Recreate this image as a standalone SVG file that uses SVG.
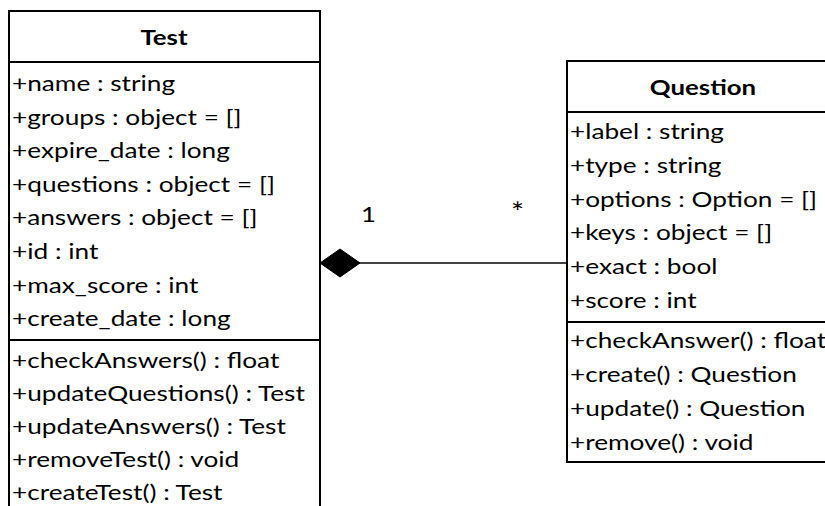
<svg xmlns="http://www.w3.org/2000/svg" width="825" height="506" viewBox="0 0 825 506">
  <style>
    text { font-family: Lato, "Open Sans", "Liberation Sans", sans-serif; font-size: 21.5px; fill: #000; }
    .title { font-weight: bold; text-anchor: middle; }
    .box { fill: #fff; stroke: #000; stroke-width: 2; }
    .sep { stroke: #000; stroke-width: 2; }
    .link { stroke: #000; stroke-width: 1.5; fill: none; }
  </style>
  <rect width="825" height="506" fill="#fff"/>

  <!-- class Test; labels are widened horizontally to the box proportions -->
  <g id="test">
    <rect class="box" x="9" y="11" width="311" height="510"/>
    <line class="sep" x1="9" y1="62" x2="320" y2="62"/>
    <line class="sep" x1="9" y1="340" x2="320" y2="340"/>
    <g transform="translate(164 0) scale(1.2 1)">
      <text class="title" x="0" y="45">Test</text>
    </g>
    <g transform="translate(12 0) scale(1.22 1)">
      <text x="0" y="91">+name : string</text>
      <text x="0" y="125">+groups : object = []</text>
      <text x="0" y="158">+expire_date : long</text>
      <text x="0" y="192">+questions : object = []</text>
      <text x="0" y="225">+answers : object = []</text>
      <text x="0" y="259">+id : int</text>
      <text x="0" y="293">+max_score : int</text>
      <text x="0" y="326">+create_date : long</text>
      <text x="0" y="368">+checkAnswers() : float</text>
      <text x="0" y="401">+updateQuestions() : Test</text>
      <text x="0" y="434">+updateAnswers() : Test</text>
      <text x="0" y="467">+removeTest() : void</text>
      <text x="0" y="500">+createTest() : Test</text>
    </g>
  </g>

  <!-- class Question -->
  <g id="question">
    <rect class="box" x="567" y="61" width="270" height="401"/>
    <line class="sep" x1="567" y1="112" x2="837" y2="112"/>
    <line class="sep" x1="567" y1="322" x2="837" y2="322"/>
    <g transform="translate(703 0) scale(1.2 1)">
      <text class="title" x="0" y="95">Question</text>
    </g>
    <g transform="translate(570 0) scale(1.22 1)">
      <text x="0" y="139">+label : string</text>
      <text x="0" y="173">+type : string</text>
      <text x="0" y="207">+options : Option = []</text>
      <text x="0" y="240">+keys : object = []</text>
      <text x="0" y="274">+exact : bool</text>
      <text x="0" y="308">+score : int</text>
      <text x="0" y="348">+checkAnswer() : float</text>
      <text x="0" y="382">+create() : Question</text>
      <text x="0" y="416">+update() : Question</text>
      <text x="0" y="450">+remove() : void</text>
    </g>
  </g>

  <!-- composition: Test (1) owns Question (*) -->
  <g id="connectors">
    <line class="link" x1="358" y1="263" x2="567" y2="263"/>
    <polygon points="320,263 340,249 360,263 340,277" fill="#000" stroke="#000" stroke-width="1"/>
    <g transform="translate(361 0) scale(1.2 1)">
      <text x="0" y="222">1</text>
    </g>
    <g transform="translate(511 0) scale(1.15 1)">
      <text x="0" y="222" style="font-size:27px">*</text>
    </g>
  </g>
</svg>
